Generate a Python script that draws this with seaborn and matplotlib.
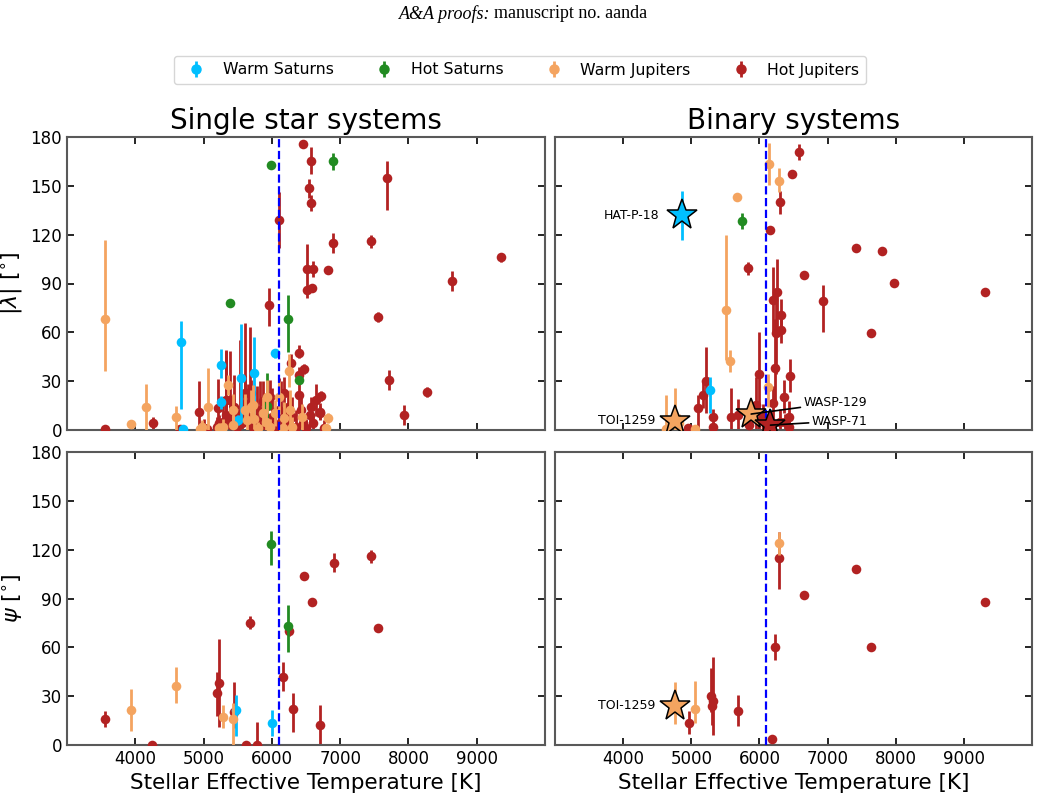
import numpy as np
import pandas as pd
import matplotlib
matplotlib.use("Agg")
import matplotlib.pyplot as plt
import seaborn as sns

# ---------------- data (T_eff [K], angle [deg], err_low, err_high) ----------------
categories = ["Warm Saturns", "Hot Saturns", "Warm Jupiters", "Hot Jupiters"]
colors = ["#00BFFF", "#228B22", "#F4A460", "#B22222"]

single_lam_ws = [(4672, 54, 41, 13), (4700, 0.5, 0.5, 2), (5262, 40, 8, 10), (5262, 17, 4, 4),
                 (5541, 32, 26, 33), (5740, 35, 27, 22), (6047, 47, 3, 3), (5500, 6, 3, 3)]
single_lam_hs = [(5993, 162.5, 1, 1), (6899, 165, 5, 5), (5384, 78, 1, 1), (6232, 68, 20, 15),
                 (6398, 31, 2, 2), (5925, 15, 10, 20)]
single_lam_wj = [(3551, 68, 32, 49), (3942, 3.5, 2, 2), (4156, 14, 14, 14), (4600, 8, 8, 7),
                 (5072, 14, 14, 24), (5355, 27.6, 6, 6), (6247, 36.4, 10, 10), (5935, 20.5, 10, 10),
                 (6817, 7.6, 3, 3), (6800, 1, 1, 2), (5437, 12.3, 8, 10), (5608, 12.3, 8, 10),
                 (5633, 6, 6, 8), (5437, 3, 3, 6), (5290, 2, 2, 5), (4975, 2, 2, 4), (5696, 14.3, 8, 10),
                 (5730, 15.4, 8, 12), (5867, 10.2, 8, 10), (5915, 5, 5, 8), (6047, 10.2, 8, 8),
                 (6184, 7.2, 7, 10), (6266, 12.3, 10, 12), (6437, 8.2, 8, 8), (6168, 1, 1, 4),
                 (5974, 2, 2, 5), (5740, 6.5, 6, 8), (5230, 1, 1, 3), (5800, 1, 1, 4), (6300, 2, 2, 6),
                 (6100, 20, 10, 10), (4950, 0.5, 0.5, 2)]
single_lam_hj = [(6461, 176, 1, 1), (6573, 165, 8, 9), (7689, 155, 20, 10), (6549, 148.4, 6, 6),
                 (6573, 139.6, 5, 5), (6105, 129, 17, 17), (6899, 115, 6, 6), (7450, 116, 4, 4),
                 (9351, 106, 3, 3), (6520, 99, 15, 15), (6608, 99, 5, 5), (6822, 98, 1, 1),
                 (8635, 91.5, 6, 6), (6520, 86, 5, 2), (6594, 87.4, 2, 2), (5954, 77, 13, 10),
                 (7553, 69.4, 3, 3), (6398, 47, 3, 5), (6286, 41.4, 5, 5), (6471, 37.5, 3, 3),
                 (6394, 33.8, 5, 5), (7719, 30.7, 6, 6), (8274, 23.5, 3, 3), (7928, 9.2, 6, 6),
                 (6719, 20.9, 3, 3), (6646, 18.4, 10, 10), (6700, 10.6, 4, 4), (3560, 0.7, 0.7, 1),
                 (4258, 4, 4, 4), (4926, 11.3, 11, 19), (5209, 13.3, 13, 18), (5322, 18.4, 10, 30),
                 (5610, 23, 20, 43), (4658, 0.5, 0.5, 1), (5000, 1, 1, 6), (5050, 0.5, 0.5, 3),
                 (5200, 2, 2, 6), (5280, 5, 5, 12), (5330, 9, 9, 40), (5400, 3, 3, 15),
                 (5450, 14, 10, 20), (5490, 2, 2, 10), (5530, 10, 10, 45), (5560, 4, 4, 18),
                 (5600, 16, 10, 18), (5650, 8, 8, 20), (5700, 22.5, 8, 8), (5720, 2, 2, 10),
                 (5780, 12, 8, 15), (5830, 5, 5, 25), (5870, 18, 10, 12), (5900, 3, 3, 10),
                 (5974, 20.5, 8, 10), (6000, 8, 8, 18), (6050, 2, 2, 12), (6100, 12, 12, 20),
                 (6140, 5, 5, 25), (6178, 22.5, 8, 10), (6200, 3, 3, 10), (6230, 14, 10, 10),
                 (6270, 1, 1, 8), (6300, 8, 8, 12), (6350, 2, 2, 10), (6403, 21.5, 8, 8),
                 (6420, 12, 8, 8), (6450, 4, 4, 8), (6500, 1, 1, 6), (6558, 9.2, 5, 5),
                 (6573, 14.3, 6, 6), (6608, 4.1, 4, 6), (6705, 11.3, 5, 5), (6760, 1, 1, 5),
                 (5387, 18.4, 10, 30), (5387, 7.2, 7, 8), (5219, 4.1, 4, 5), (5681, 23.5, 10, 40)]

single_psi_ws = [(5472, 21.5, 16, 9), (6003, 13.3, 8, 8)]
single_psi_hs = [(5993, 123.7, 13, 8), (6237, 73, 16, 13)]
single_psi_wj = [(3942, 21.5, 13, 13), (4600, 36, 10, 12), (5287, 17.4, 7, 7), (5437, 16, 16, 10)]
single_psi_hj = [(3561, 16, 5, 5), (4243, 0.3, 0.3, 1), (5203, 32, 14, 13), (5232, 38.3, 27, 27),
                 (5447, 20.5, 10, 18), (5686, 75, 4, 4), (5628, 0.3, 0.3, 1), (5788, 0.3, 0.3, 14),
                 (6164, 42, 9, 9), (6251, 70, 3, 3), (6306, 22, 14, 10), (6466, 104, 2, 2),
                 (6592, 88, 2, 2), (6705, 12.5, 12.5, 12), (6905, 112, 6, 6), (7455, 116, 4, 4),
                 (7558, 72, 1, 1)]

binary_lam_ws = [(5274, 24.4, 14, 8), (6150, 3, 3, 10)]
binary_lam_hs = [(5738, 128.6, 5, 5), (5870, 11, 2, 2)]
binary_lam_wj = [(5674, 143.3, 1, 1), (6138, 163.6, 13, 13), (6284, 153, 7, 8), (5508, 74, 31, 46),
                 (5571, 42.4, 7, 7), (6124, 26.4, 12, 8), (4625, 0.5, 0.5, 21), (5050, 0.5, 0.5, 2),
                 (4820, 4, 4, 6)]
binary_lam_hj = [(6587, 171, 5, 5), (6484, 157, 1, 1), (6296, 140, 7, 7), (6149, 123, 1, 1),
                 (7411, 111.8, 1, 1), (7792, 109.7, 1, 1), (5830, 99.5, 4, 4), (6654, 95, 1, 1),
                 (7982, 90.3, 1, 1), (9310, 85, 1, 1), (6255, 85, 25, 20), (6197, 80, 20, 20),
                 (6928, 79, 19, 10), (6323, 70.6, 10, 10), (7631, 59.4, 1, 1), (6318, 61.4, 8, 10),
                 (6250, 59.4, 25, 25), (6235, 38.3, 20, 30), (6449, 33.4, 10, 10), (6001, 34.2, 34, 26),
                 (5211, 30.3, 20, 20.5), (5176, 21.5, 8, 8), (5094, 13.3, 13, 8), (5318, 7.8, 7.8, 5),
                 (5318, 2, 2, 2), (5581, 7.8, 7.8, 18), (5689, 9.2, 9.2, 10), (6357, 20.5, 10, 10),
                 (6197, 16.8, 10, 10), (6430, 8, 8, 10), (6430, 2, 2, 3), (5943, 15.4, 15, 17),
                 (5850, 3, 3, 5), (4957, 1, 1, 2), (6300, 5, 5, 8), (6050, 8, 8, 8), (6100, 2, 2, 6),
                 (6380, 5, 5, 5)]

binary_psi_ws = []
binary_psi_hs = []
binary_psi_wj = [(5050, 22.3, 9, 17), (6288, 124, 7, 7)]
binary_psi_hj = [(4962, 13.7, 7, 7), (5289, 30.1, 10, 17), (5323, 27, 21, 27), (5299, 24.2, 12, 12),
                 (5689, 21.1, 9.5, 9.4), (6182, 3.7, 3.7, 2), (6235, 60.2, 8, 8), (6294, 115, 19, 16),
                 (6654, 92, 1, 1), (7416, 108.3, 1, 1), (7631, 60.4, 1, 1), (9310, 87.6, 1, 1)]

# highlighted systems: (name, category index, T, angle, err_low, err_high)
binary_lam_stars = [("HAT-P-18", 0, 4859, 132, 15, 15), ("TOI-1259", 2, 4761, 5.7, 5.7, 20),
                    ("WASP-129", 2, 5879, 9.8, 0, 0), ("WASP-71", 3, 6162, 3, 0, 0)]
binary_psi_stars = [("TOI-1259", 2, 4761, 24.2, 11.3, 14.7)]

kraft_break = 6100
xticks = [4000, 5000, 6000, 7000, 8000, 9000]
yticks = [0, 30, 60, 90, 120, 150, 180]

# ---------------- style ----------------
sns.set_style("ticks")
plt.rcParams["font.family"] = ["DejaVu Sans"]
plt.rcParams["mathtext.fontset"] = "dejavusans"
plt.rcParams["text.color"] = "black"
plt.rcParams["axes.labelcolor"] = "black"
plt.rcParams["xtick.color"] = "black"
plt.rcParams["ytick.color"] = "black"

fig = plt.figure(figsize=(10.4, 7.96), dpi=100)
W, H = 1040, 796
def box(x0, y0, x1, y1):
    return [x0 / W, 1 - y1 / H, (x1 - x0) / W, (y1 - y0) / H]

ax_sl = fig.add_axes(box(67, 137, 545, 430))
ax_bl = fig.add_axes(box(555, 137, 1032, 430))
ax_sp = fig.add_axes(box(67, 452, 545, 745))
ax_bp = fig.add_axes(box(555, 452, 1032, 745))

def to_df(rows, cat):
    df = pd.DataFrame(rows, columns=["T", "ang", "lo", "hi"]) if rows else \
        pd.DataFrame(columns=["T", "ang", "lo", "hi"], dtype=float)
    df["cat"] = cat
    return df

def draw_panel(ax, groups, stars):
    order = [3, 0, 1, 2]  # Hot Jupiters first, then others on top
    for k, gi in enumerate(order):
        df = to_df(groups[gi], categories[gi])
        if len(df) == 0:
            continue
        ax.errorbar(df["T"], df["ang"], yerr=[df["lo"], df["hi"]], fmt="none",
                    ecolor=colors[gi], elinewidth=2, capsize=0, zorder=2 + 2 * k)
        sns.scatterplot(data=df, x="T", y="ang", color=colors[gi], s=48, linewidth=0,
                        ax=ax, zorder=3 + 2 * k, legend=False)
    for name, gi, t, a, lo, hi in stars:
        if lo or hi:
            ax.errorbar([t], [a], yerr=[[lo], [hi]], fmt="none", ecolor=colors[gi],
                        elinewidth=2, capsize=0, zorder=20)
        ax.plot([t], [a], marker="*", markersize=23, color=colors[gi],
                markeredgecolor="black", markeredgewidth=1.1, linestyle="none", zorder=21)
    ax.axvline(kraft_break, color="blue", linestyle="--", linewidth=1.6, zorder=12)
    ax.set_xlim(3000, 10000)
    ax.set_ylim(0, 180)
    ax.set_xticks(xticks)
    ax.set_yticks(yticks)
    ax.tick_params(direction="in", top=True, right=True, length=5, width=1.2,
                   labelsize=12, color="black")
    for sp in ax.spines.values():
        sp.set_color("0.35")
        sp.set_linewidth(1.5)
    ax.set_xlabel("")
    ax.set_ylabel("")

draw_panel(ax_sl, [single_lam_ws, single_lam_hs, single_lam_wj, single_lam_hj], [])
draw_panel(ax_bl, [binary_lam_ws, binary_lam_hs, binary_lam_wj, binary_lam_hj], binary_lam_stars)
draw_panel(ax_sp, [single_psi_ws, single_psi_hs, single_psi_wj, single_psi_hj], [])
draw_panel(ax_bp, [binary_psi_ws, binary_psi_hs, binary_psi_wj, binary_psi_hj], binary_psi_stars)

for ax in (ax_sl, ax_bl):
    ax.tick_params(labelbottom=False)
for ax in (ax_bl, ax_bp):
    ax.tick_params(labelleft=False)

ax_sl.set_title("Single star systems", fontsize=20, pad=6)
ax_bl.set_title("Binary systems", fontsize=20, pad=6)
ax_sl.set_ylabel(r"$|\lambda|$ [$^{\circ}$]", fontsize=16)
ax_sp.set_ylabel(r"$\psi$ [$^{\circ}$]", fontsize=16)
ax_sp.set_xlabel("Stellar Effective Temperature [K]", fontsize=15.5)
ax_bp.set_xlabel("Stellar Effective Temperature [K]", fontsize=15.5)

# labels of highlighted systems
ax_bl.text(4527, 132, "HAT-P-18", fontsize=9, ha="right", va="center")
ax_bl.text(4469, 6, "TOI-1259", fontsize=9, ha="right", va="center")
ax_bp.text(4469, 24.2, "TOI-1259", fontsize=9, ha="right", va="center")
ax_bl.annotate("WASP-129", xy=(5879, 9.8), xytext=(6650, 16.8), fontsize=9, ha="left", va="center",
               arrowprops=dict(arrowstyle="-", color="black", lw=1.2, shrinkA=0, shrinkB=0), zorder=25)
ax_bl.annotate("WASP-71", xy=(6162, 3), xytext=(6771, 5.5), fontsize=9, ha="left", va="center",
               arrowprops=dict(arrowstyle="-", color="black", lw=1.2, shrinkA=0, shrinkB=0), zorder=25)

# legend
handles = []
for c in colors:
    h = ax_sl.errorbar([], [], yerr=[], fmt="o", color=c, markersize=6.5, elinewidth=2, capsize=0)
    handles.append(h)
fig.legend(handles, categories, loc="center", bbox_to_anchor=(0.5, 1 - 70 / H), ncol=4,
           fontsize=11.3, frameon=True, columnspacing=2.2, handletextpad=0.7)

# page header
fig.text(490 / W, 1 - 14 / H, "A&A proofs:", family="Liberation Serif", style="italic",
         fontsize=13, ha="right", va="center")
fig.text(494 / W, 1 - 14 / H, "manuscript no. aanda", family="Liberation Serif",
         fontsize=13, ha="left", va="center")

fig.savefig("out.png", dpi=100)
